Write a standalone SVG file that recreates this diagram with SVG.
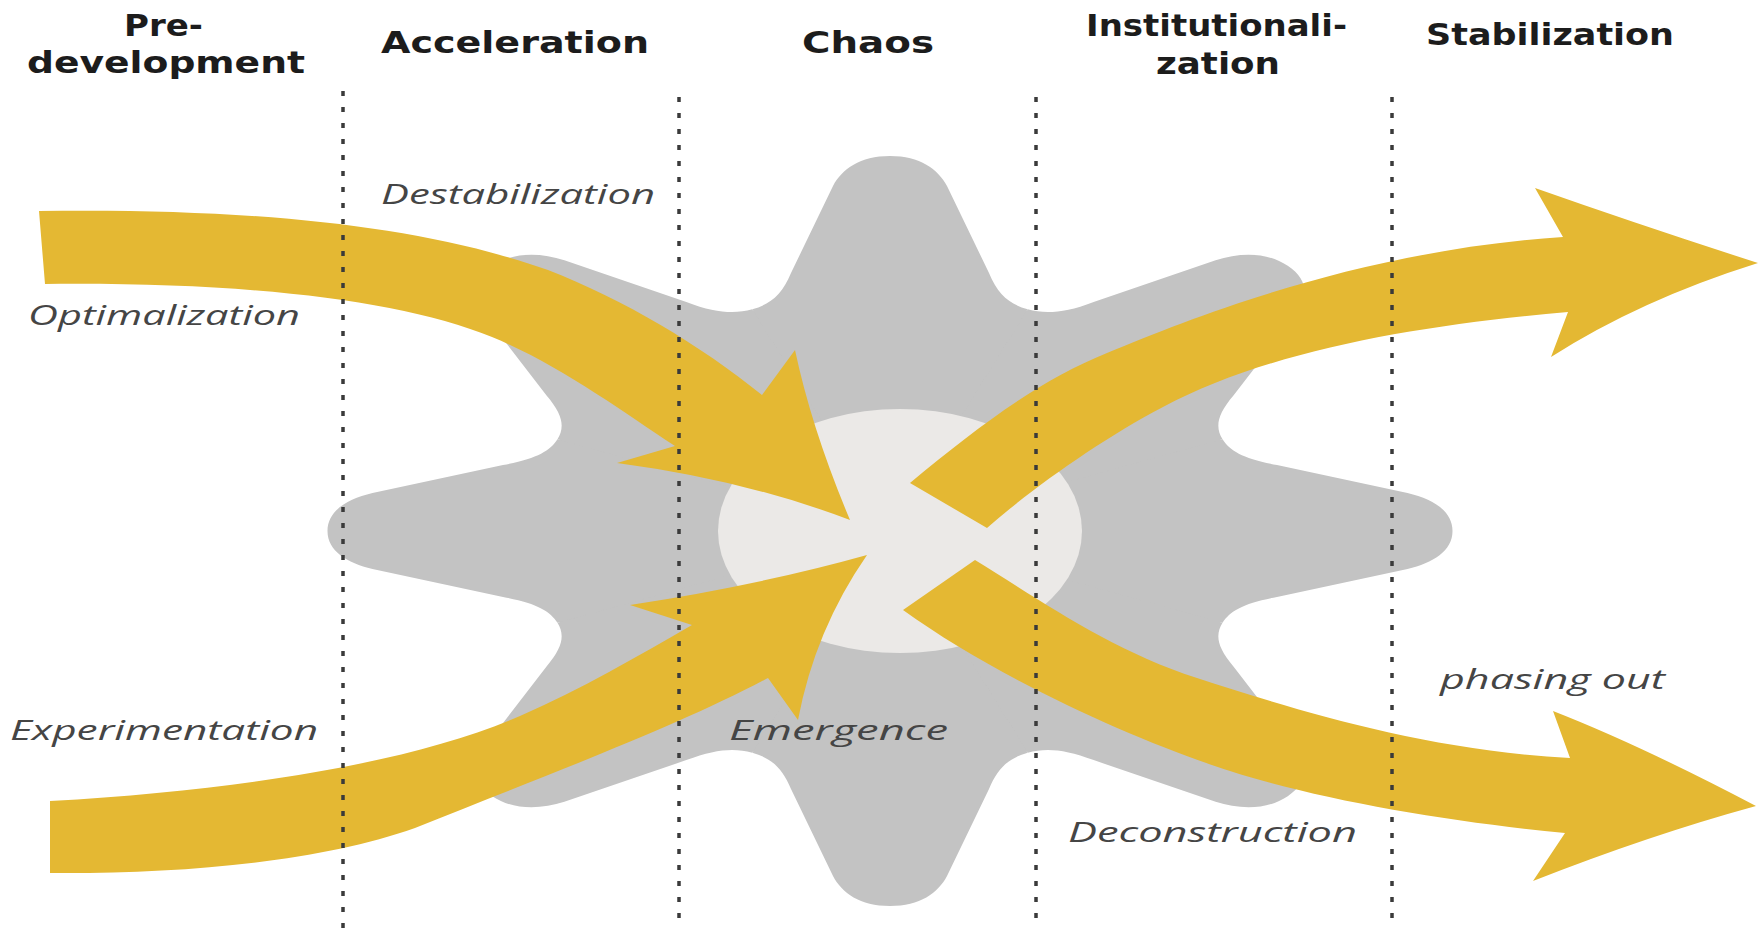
<svg xmlns="http://www.w3.org/2000/svg" xmlns:xlink="http://www.w3.org/1999/xlink" width="1763" height="928" viewBox="0 0 1763 928">
  <style>
    .hdr { font-family: "DejaVu Sans", "Liberation Sans", sans-serif; font-weight: bold; font-size: 30px; fill: #1c1c1c; }
    .lbl { font-family: "Open Sans", "DejaVu Sans", sans-serif; font-style: italic; font-weight: 400; font-size: 27px; fill: #454545; }
    .flow { fill: #e4b833; }
    .phase { stroke: #3a3a3a; stroke-width: 3.5; stroke-dasharray: 5 11; fill: none; }
  </style>
  <defs>
    <path id="tooth" d="M0,0 L-91.8,-221.7 C-80,-226.6 -72,-236 -66,-258 L-38,-345 C-32,-362 -20,-375 0,-375 C20,-375 32,-362 38,-345 L66,-258 C72,-236 80,-226.6 91.8,-221.7 Z"/>
  </defs>
  <rect width="1763" height="928" fill="#ffffff"/>

  <g id="gear" fill="#c3c3c3" transform="translate(890,531) scale(1.5,1)">
    <circle r="238"/>
    <use xlink:href="#tooth" href="#tooth"/>
    <use xlink:href="#tooth" href="#tooth" transform="rotate(45)"/>
    <use xlink:href="#tooth" href="#tooth" transform="rotate(90)"/>
    <use xlink:href="#tooth" href="#tooth" transform="rotate(135)"/>
    <use xlink:href="#tooth" href="#tooth" transform="rotate(180)"/>
    <use xlink:href="#tooth" href="#tooth" transform="rotate(225)"/>
    <use xlink:href="#tooth" href="#tooth" transform="rotate(270)"/>
    <use xlink:href="#tooth" href="#tooth" transform="rotate(315)"/>
  </g>
  <g id="core">
    <ellipse cx="900" cy="531" rx="182" ry="122" fill="#ebe9e7"/>
  </g>

  <g id="connectors">
    <path id="arrow-optimalization" class="flow" d="M39,211 C250,208 420,225 548,270 C625,300 700,345 762,395 L795,350 Q812,430 850,520 Q745,480 617,463 L675,446 C620,410 560,365 492,337 C400,300 250,282 45,284 Z"/>
    <path id="arrow-experimentation" class="flow" d="M50,801 C250,790 420,760 520,716 C580,690 640,655 692,625 L630,605 Q760,585 867,555 Q815,630 798,720 L768,678 C680,725 560,770 415,828 C320,862 180,874 50,873 Z"/>
    <path id="arrow-stabilization" class="flow" d="M910,483 C980,425 1040,380 1107,353 C1210,310 1370,250 1563,237 L1535,188 Q1640,225 1758,263 Q1640,300 1551,357 L1568,312 C1420,325 1270,350 1163,407 C1100,440 1030,490 987,528 Z"/>
    <path id="arrow-phasing-out" class="flow" d="M975,560 C1040,600 1110,650 1197,678 C1290,708 1420,750 1570,758 L1553,711 Q1640,745 1756,806 Q1650,835 1533,881 L1565,833 C1450,822 1320,800 1230,771 C1140,742 1000,680 903,610 Z"/>
  </g>

  <g id="phase-lines">
    <line class="phase" x1="343" y1="91" x2="343" y2="928"/>
    <line class="phase" x1="679" y1="97" x2="679" y2="928"/>
    <line class="phase" x1="1036" y1="97" x2="1036" y2="928"/>
    <line class="phase" x1="1392" y1="97" x2="1392" y2="928"/>
  </g>

  <g id="headers">
    <g id="hdr-predevelopment">
      <text class="hdr" x="124" y="36" textLength="79" lengthAdjust="spacingAndGlyphs">Pre-</text>
      <text class="hdr" x="27" y="73" textLength="278" lengthAdjust="spacingAndGlyphs">development</text>
    </g>
    <g id="hdr-acceleration">
      <text class="hdr" x="381" y="53" textLength="268" lengthAdjust="spacingAndGlyphs">Acceleration</text>
    </g>
    <g id="hdr-chaos">
      <text class="hdr" x="802" y="53" textLength="132" lengthAdjust="spacingAndGlyphs">Chaos</text>
    </g>
    <g id="hdr-institutionalization">
      <text class="hdr" x="1086" y="36" textLength="261" lengthAdjust="spacingAndGlyphs">Institutionali-</text>
      <text class="hdr" x="1156" y="74" textLength="124" lengthAdjust="spacingAndGlyphs">zation</text>
    </g>
    <g id="hdr-stabilization">
      <text class="hdr" x="1426" y="45" textLength="248" lengthAdjust="spacingAndGlyphs">Stabilization</text>
    </g>
  </g>

  <g id="labels">
    <g id="lbl-optimalization"><text class="lbl" x="28" y="325" textLength="272" lengthAdjust="spacingAndGlyphs">Optimalization</text></g>
    <g id="lbl-destabilization"><text class="lbl" x="381" y="204" textLength="274" lengthAdjust="spacingAndGlyphs">Destabilization</text></g>
    <g id="lbl-experimentation"><text class="lbl" x="10" y="740" textLength="308" lengthAdjust="spacingAndGlyphs">Experimentation</text></g>
    <g id="lbl-emergence"><text class="lbl" x="729" y="740" textLength="219" lengthAdjust="spacingAndGlyphs">Emergence</text></g>
    <g id="lbl-deconstruction"><text class="lbl" x="1068" y="842" textLength="289" lengthAdjust="spacingAndGlyphs">Deconstruction</text></g>
    <g id="lbl-phasing-out"><text class="lbl" x="1440" y="689" textLength="225" lengthAdjust="spacingAndGlyphs">phasing out</text></g>
  </g>
</svg>
